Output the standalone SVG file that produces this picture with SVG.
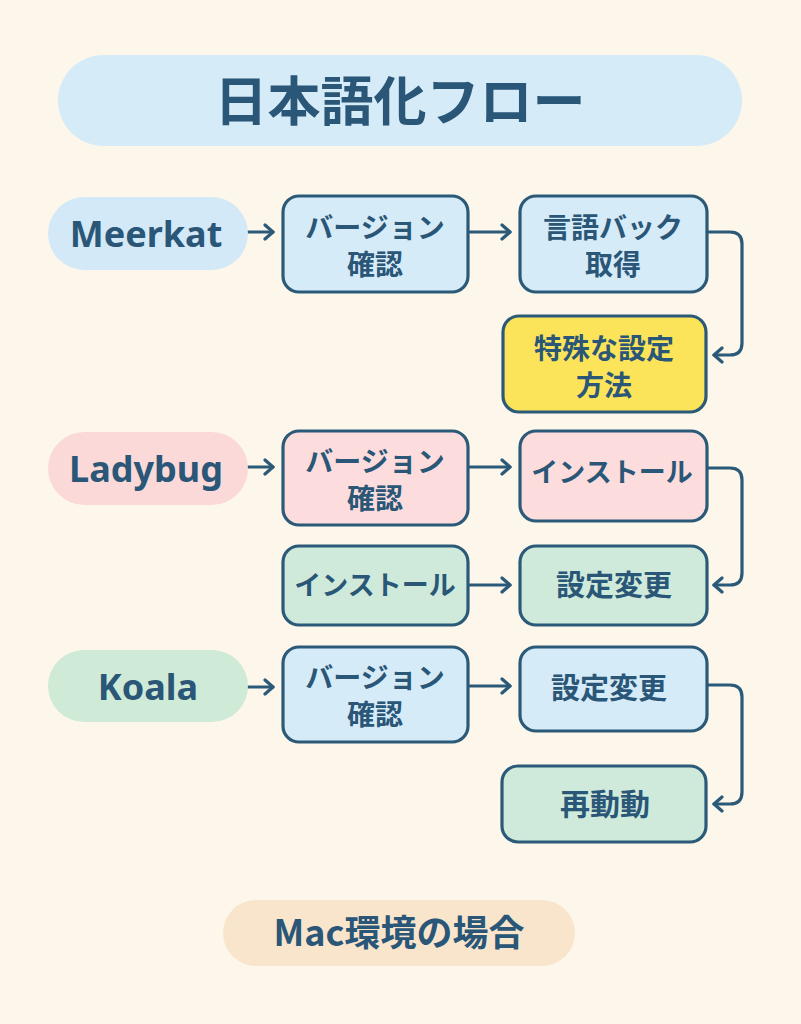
<svg xmlns="http://www.w3.org/2000/svg" width="801" height="1024" viewBox="0 0 801 1024">
<defs>
<style>
.bg{fill:#fdf6ea}
.box{stroke:#2b5a78;stroke-width:3.2}
.blue{fill:#d6ebf8}
.pink{fill:#fcdcdc}
.green{fill:#cfeada}
.yellow{fill:#fbe35a}
.t{font-family:"Noto Sans CJK JP","Noto Sans",sans-serif;font-weight:700;fill:#2a5677;text-anchor:middle}
.lat{font-family:"Noto Sans","Noto Sans CJK JP",sans-serif;font-weight:700;fill:#2a5677;text-anchor:middle}
.c{fill:none;stroke:#2b5a78;stroke-width:3.2;stroke-linecap:round;stroke-linejoin:round}
</style>
<marker id="ah" viewBox="-10 -9 12 18" refX="0" refY="0" markerWidth="12" markerHeight="18" orient="auto" markerUnits="userSpaceOnUse">
<path d="M-8,-7 L0,0 L-8,7" fill="none" stroke="#2b5a78" stroke-width="3.2" stroke-linecap="round" stroke-linejoin="round"/>
</marker>
</defs>
<rect class="bg" x="0" y="0" width="801" height="1024"/>

<g id="title">
<rect x="58" y="55" width="684" height="91" rx="45.5" fill="#d6ebf8"/>
<text class="t" x="400" y="121" font-size="53">日本語化フロー</text>
</g>

<g id="connectors">
<path class="c" d="M248,232 H273" marker-end="url(#ah)"/>
<path class="c" d="M470,232 H510" marker-end="url(#ah)"/>
<path class="c" d="M707,232 H730 Q742,232 742,244 V343 Q742,355 730,355 H714" marker-end="url(#ah)"/>
<path class="c" d="M248,467 H273" marker-end="url(#ah)"/>
<path class="c" d="M470,467 H510" marker-end="url(#ah)"/>
<path class="c" d="M707,468 H730 Q742,468 742,480 V573 Q742,585 730,585 H714" marker-end="url(#ah)"/>
<path class="c" d="M470,585 H510" marker-end="url(#ah)"/>
<path class="c" d="M248,687 H273" marker-end="url(#ah)"/>
<path class="c" d="M470,686 H510" marker-end="url(#ah)"/>
<path class="c" d="M707,685 H730 Q742,685 742,697 V792 Q742,804 730,804 H714" marker-end="url(#ah)"/>
</g>

<g id="meerkat">
<rect x="48" y="197" width="200" height="73" rx="36.5" fill="#d3e9f7"/>
<text class="lat" x="146" y="247" font-size="36">Meerkat</text>
</g>
<g id="m-version">
<rect class="box blue" x="283" y="196" width="185" height="96" rx="16"/>
<text class="t" x="375" y="238" font-size="28">バージョン</text>
<text class="t" x="375" y="275" font-size="28">確認</text>
</g>
<g id="m-langpack">
<rect class="box blue" x="520" y="196" width="187" height="96" rx="16"/>
<text class="t" x="613" y="238" font-size="28">言語バック</text>
<text class="t" x="613" y="275" font-size="28">取得</text>
</g>
<g id="m-special">
<rect class="box yellow" x="503" y="316" width="203" height="96" rx="16"/>
<text class="t" x="604" y="359" font-size="28">特殊な設定</text>
<text class="t" x="604" y="396" font-size="28">方法</text>
</g>

<g id="ladybug">
<rect x="48" y="432" width="200" height="73" rx="36.5" fill="#fbd9d9"/>
<text class="lat" x="146" y="482" font-size="36">Ladybug</text>
</g>
<g id="l-version">
<rect class="box pink" x="283" y="431" width="185" height="94" rx="16"/>
<text class="t" x="375" y="472" font-size="28">バージョン</text>
<text class="t" x="375" y="509" font-size="28">確認</text>
</g>
<g id="l-install1">
<rect class="box pink" x="520" y="431" width="187" height="90" rx="16"/>
<text class="t" x="612" y="482" font-size="27">インストール</text>
</g>
<g id="l-install2">
<rect class="box green" x="283" y="546" width="185" height="79" rx="16"/>
<text class="t" x="375" y="595" font-size="27">インストール</text>
</g>
<g id="l-settings">
<rect class="box green" x="520" y="546" width="187" height="79" rx="16"/>
<text class="t" x="614" y="596" font-size="29">設定変更</text>
</g>

<g id="koala">
<rect x="48" y="650" width="200" height="72" rx="36" fill="#cfead6"/>
<text class="lat" x="148" y="700" font-size="36">Koala</text>
</g>
<g id="k-version">
<rect class="box blue" x="283" y="647" width="185" height="95" rx="16"/>
<text class="t" x="375" y="688" font-size="28">バージョン</text>
<text class="t" x="375" y="725" font-size="28">確認</text>
</g>
<g id="k-settings">
<rect class="box blue" x="520" y="647" width="187" height="84" rx="16"/>
<text class="t" x="609" y="699" font-size="29">設定変更</text>
</g>
<g id="k-restart">
<rect class="box green" x="502" y="766" width="204" height="76" rx="16"/>
<text class="t" x="605" y="815" font-size="30">再動動</text>
</g>

<g id="footer">
<rect x="223" y="900" width="352" height="66" rx="33" fill="#f8e5cc"/>
<text class="t" x="399" y="946" font-size="36">Mac環境の場合</text>
</g>
</svg>
